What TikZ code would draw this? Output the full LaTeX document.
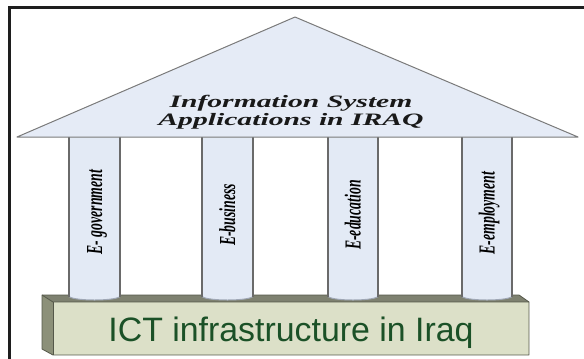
\documentclass[tikz,border=0pt]{standalone}
\usepackage{fontspec}
\setmainfont{Liberation Serif}
\newfontfamily\arialfont{Liberation Sans}
\definecolor{framecol}{HTML}{1E1E1E}
\definecolor{rooffill}{HTML}{E5EBF6}
\definecolor{roofline}{HTML}{7A7A7A}
\definecolor{pillarfill}{HTML}{E3EAF5}
\definecolor{pillarline}{HTML}{6A6A6A}
\definecolor{pillarbase}{HTML}{9FA7B5}
\definecolor{slabfront}{HTML}{DCE0C8}
\definecolor{slabtop}{HTML}{7E8170}
\definecolor{slabside}{HTML}{8C9079}
\definecolor{slabline}{HTML}{55584A}
\definecolor{ictgreen}{HTML}{1B5127}
\begin{document}
\begin{tikzpicture}[x=1bp,y=-1bp,
  pillarbody/.style={fill=pillarfill},
  pillaredge/.style={draw=pillarline,line width=1.1bp},
  slabface/.style={draw=slabline,line width=0.8bp,line join=round},
  colname/.style={rotate=90,anchor=base,xscale=0.6,inner sep=0pt,
    font=\fontsize{23}{24}\selectfont\bfseries\itshape},
  rooftext/.style={anchor=base,xscale=1.7,inner sep=0pt,text=black!90,
    font=\fontsize{17.5}{18}\selectfont\bfseries\itshape}]
\useasboundingbox (0,0) rectangle (584,358);
\clip (0,0) rectangle (584,358);

% outer frame (runs past the right and bottom edges)
\draw[framecol,line width=2.6bp] (9.5,7.3) rectangle (620,400);

% foundation slab
\fill[slabtop] (42,295) -- (519,295) -- (529,302) -- (53,302) -- cycle;
\fill[slabside] (42,295) -- (53,302) -- (53,355) -- (42,349) -- cycle;
\fill[slabfront] (53,302) rectangle (529,355);
\draw[slabface] (42,295) -- (519,295) -- (529,302) -- (529,355) -- (53,355)
  -- (42,349) -- cycle;
\draw[slabface] (42,295) -- (53,302) -- (529,302);
\draw[slabface] (53,302) -- (53,355);

% pillars
\foreach \xl/\xr in {69/120, 202/253, 328/378, 462/512}{
  \pgfmathsetmacro{\rx}{(\xr-\xl)/2}
  \fill[pillarbody] (\xl,130) -- (\xl,296)
    arc[start angle=180,end angle=0,x radius=\rx,y radius=4] -- (\xr,130) -- cycle;
  \draw[pillarbase,line width=1bp] (\xl,296)
    arc[start angle=180,end angle=0,x radius=\rx,y radius=4];
  \draw[pillaredge] (\xl,137) -- (\xl,296.5);
  \draw[pillaredge] (\xr,137) -- (\xr,296.5);
}

% roof
\draw[fill=rooffill,draw=roofline,line width=1bp,line join=round]
  (17,137) -- (295,17) -- (578,137) -- cycle;

% labels
\node[rooftext] (roofA) at (291,107.5) {Information System};
\node[rooftext] (roofB) at (291,125.5) {Applications in IRAQ};

\node[colname] (gov) at (102,212) {E- government};
\node[colname] (bus) at (235,215) {E-business};
\node[colname] (edu) at (360.5,215) {E-education};
\node[colname] (emp) at (494.5,213) {E-employment};

\node[anchor=base,inner sep=0pt,text=ictgreen,
  font=\arialfont\fontsize{34}{36}\selectfont] (ict) at (291,341)
  {ICT infrastructure in Iraq};
\end{tikzpicture}
\end{document}
